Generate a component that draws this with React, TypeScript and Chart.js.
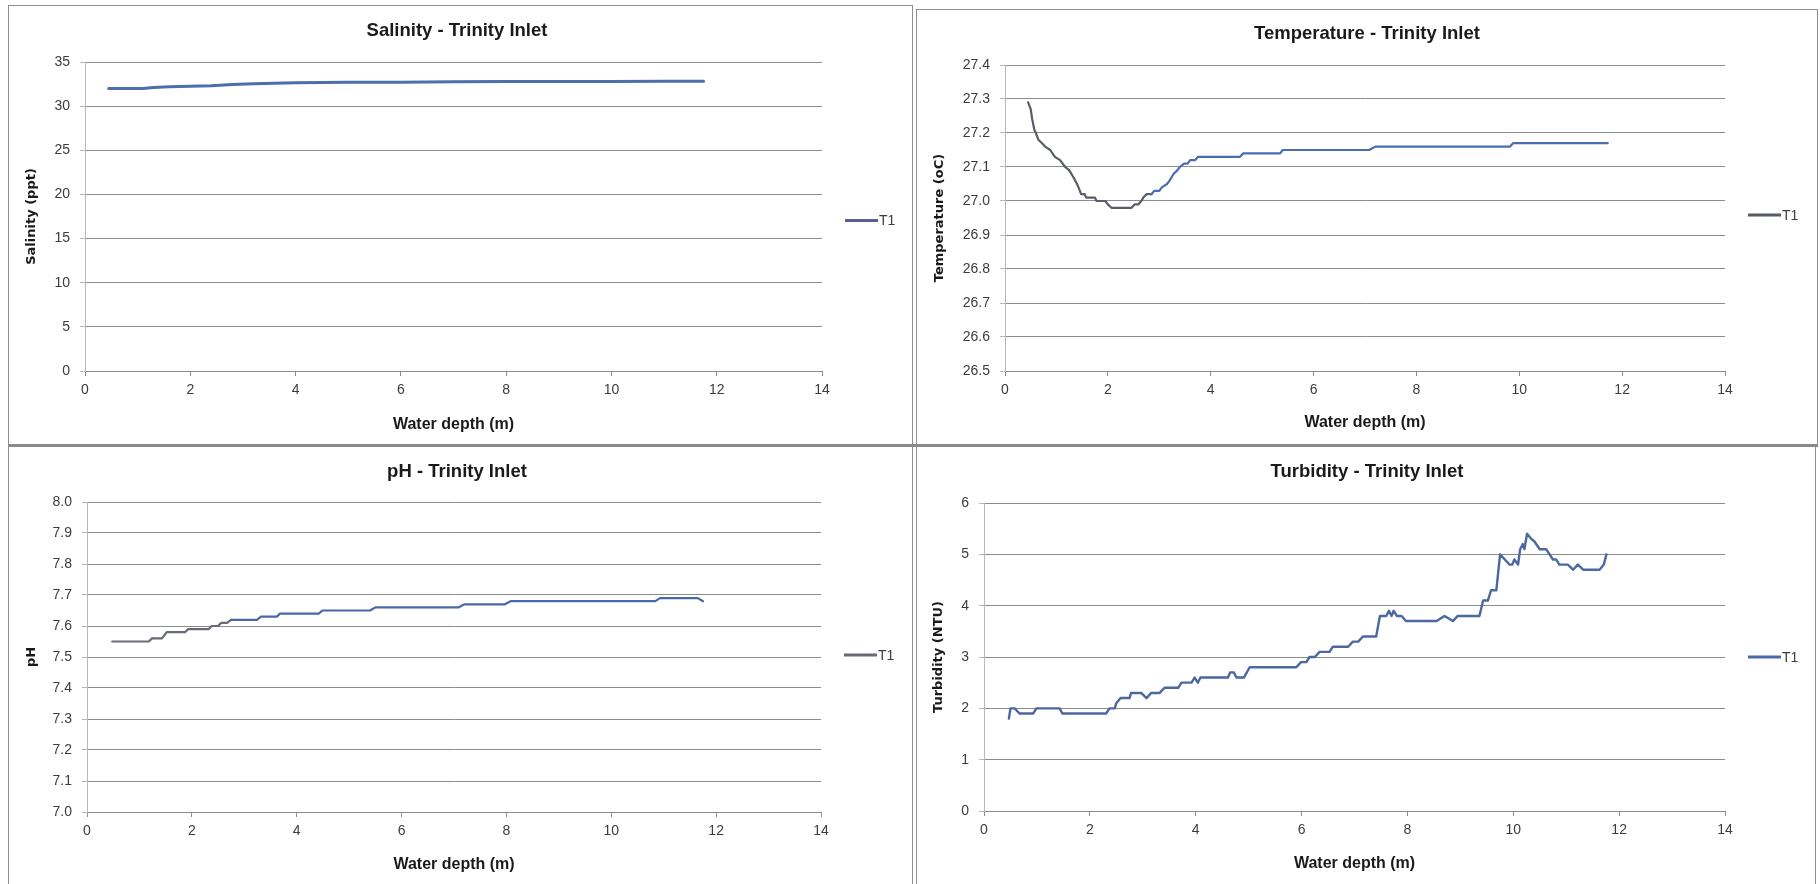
import React, { useEffect, useRef } from "react";
import { Chart, registerables } from "chart.js";

Chart.register(...registerables);

// ---------------- data ----------------
const seriesLabel = "T1";
const depthTicks = [0, 2, 4, 6, 8, 10, 12, 14];

const salinityTicks = [0, 5, 10, 15, 20, 25, 30, 35];
const salinityDepth = [0.45, 0.8, 1.1, 1.3, 1.6, 2.0, 2.4, 2.8, 3.2, 3.6, 4.0, 5.0, 6.0, 7.0, 8.0, 9.0, 10.0, 11.0, 11.75];
const salinityValues = [32.0, 32.0, 32.0, 32.1, 32.2, 32.25, 32.3, 32.45, 32.55, 32.6, 32.65, 32.7, 32.72, 32.75, 32.8, 32.8, 32.8, 32.82, 32.82];

const temperatureTicks = [26.5, 26.6, 26.7, 26.8, 26.9, 27.0, 27.1, 27.2, 27.3, 27.4];
const temperatureDepth = [0.45, 0.5, 0.53, 0.57, 0.6, 0.65, 0.72, 0.78, 0.88, 0.97, 1.07, 1.17, 1.25, 1.33, 1.4, 1.43, 1.48, 1.55, 1.58, 1.75, 1.78, 1.95, 2.0, 2.07, 2.46, 2.52, 2.59, 2.65, 2.69, 2.75, 2.85, 2.9, 3.0, 3.05, 3.15, 3.2, 3.28, 3.35, 3.4, 3.48, 3.55, 3.6, 3.7, 3.75, 4.57, 4.63, 5.35, 5.4, 7.08, 7.2, 9.82, 9.88, 11.72];
const temperatureValues = [27.29, 27.27, 27.24, 27.21, 27.2, 27.18, 27.17, 27.16, 27.15, 27.13, 27.12, 27.1, 27.09, 27.07, 27.05, 27.04, 27.02, 27.02, 27.01, 27.01, 27.0, 27.0, 26.99, 26.98, 26.98, 26.99, 26.99, 27.0, 27.01, 27.02, 27.02, 27.03, 27.03, 27.04, 27.05, 27.06, 27.08, 27.09, 27.1, 27.11, 27.11, 27.12, 27.12, 27.13, 27.13, 27.14, 27.14, 27.15, 27.15, 27.16, 27.16, 27.17, 27.17];

const phTicks = [7.0, 7.1, 7.2, 7.3, 7.4, 7.5, 7.6, 7.7, 7.8, 7.9, 8.0];
const phDepth = [0.48, 1.18, 1.24, 1.43, 1.52, 1.87, 1.93, 2.32, 2.38, 2.5, 2.56, 2.67, 2.75, 3.24, 3.32, 3.62, 3.68, 4.42, 4.49, 5.4, 5.5, 7.08, 7.2, 7.97, 8.08, 10.84, 10.93, 11.65, 11.75];
const phValues = [7.55, 7.55, 7.56, 7.56, 7.58, 7.58, 7.59, 7.59, 7.6, 7.6, 7.61, 7.61, 7.62, 7.62, 7.63, 7.63, 7.64, 7.64, 7.65, 7.65, 7.66, 7.66, 7.67, 7.67, 7.68, 7.68, 7.69, 7.69, 7.68];

const turbidityTicks = [0, 1, 2, 3, 4, 5, 6];
const turbidityDepth = [0.47, 0.5, 0.58, 0.67, 0.93, 0.99, 1.43, 1.48, 2.31, 2.37, 2.47, 2.5, 2.58, 2.75, 2.78, 2.97, 3.07, 3.16, 3.32, 3.41, 3.67, 3.73, 3.92, 3.98, 4.04, 4.09, 4.14, 4.61, 4.65, 4.72, 4.77, 4.91, 5.02, 5.9, 5.99, 6.09, 6.15, 6.25, 6.34, 6.53, 6.59, 6.88, 6.97, 7.07, 7.16, 7.41, 7.48, 7.6, 7.65, 7.7, 7.74, 7.8, 7.89, 7.97, 8.55, 8.7, 8.86, 8.95, 9.36, 9.43, 9.52, 9.58, 9.68, 9.75, 9.84, 9.93, 9.98, 10.02, 10.09, 10.13, 10.18, 10.21, 10.26, 10.34, 10.4, 10.5, 10.62, 10.75, 10.81, 10.87, 11.03, 11.13, 11.22, 11.32, 11.63, 11.71, 11.76];
const turbidityValues = [1.8, 2.0, 2.0, 1.9, 1.9, 2.0, 2.0, 1.9, 1.9, 2.0, 2.0, 2.1, 2.2, 2.2, 2.3, 2.3, 2.2, 2.3, 2.3, 2.4, 2.4, 2.5, 2.5, 2.6, 2.5, 2.6, 2.6, 2.6, 2.7, 2.7, 2.6, 2.6, 2.8, 2.8, 2.9, 2.9, 3.0, 3.0, 3.1, 3.1, 3.2, 3.2, 3.3, 3.3, 3.4, 3.4, 3.8, 3.8, 3.9, 3.8, 3.9, 3.8, 3.8, 3.7, 3.7, 3.8, 3.7, 3.8, 3.8, 4.1, 4.1, 4.3, 4.3, 5.0, 4.9, 4.8, 4.8, 4.9, 4.8, 5.1, 5.2, 5.1, 5.4, 5.3, 5.25, 5.1, 5.1, 4.9, 4.9, 4.8, 4.8, 4.7, 4.8, 4.7, 4.7, 4.8, 5.0];

// ---------------- styles ----------------
const TITLE_FONT = { family: "'Liberation Sans', Arial, sans-serif", size: 18.5, weight: "bold" as const, lineHeight: 1.2 };
const XTITLE_FONT = { family: "'Liberation Sans', Arial, sans-serif", size: 16, weight: "bold" as const, lineHeight: 1.2 };
const YTITLE_FONT = { family: "'DejaVu Sans', Verdana, sans-serif", size: 13, weight: "bold" as const, lineHeight: 1.2 };
const TICK_FONT = { family: "'Liberation Sans', Arial, sans-serif", size: 14, lineHeight: 1.2 };
const GRID = "#8c8c8c";
const AXIS_LIGHT = "#b8b8b8";
const TEXT = "#1a1a1a";
const TICK_TEXT = "#3c3c3c";

type Rect = { x: number; y: number; w: number; h: number };
type PanelSpec = {
  title: string;
  yTitle: string;
  xTitle: string;
  depth: number[];
  values: number[];
  yTicks: number[];
  decimals: number;
  color: string;
  startColor?: string;
  split?: number;
  lineWidth: number;
  legendColor: string;
  canvas: Rect;
  plot: { l: number; r: number; t: number; b: number };
  titleY: number;
  xTitleY: number;
  yTitleX: number;
  legendDy: number;
};

const panels: PanelSpec[] = [
  {
    title: "Salinity - Trinity Inlet", yTitle: "Salinity (ppt)", xTitle: "Water depth (m)",
    depth: salinityDepth, values: salinityValues, yTicks: salinityTicks, decimals: 0,
    color: "#4a6fab", lineWidth: 3, legendColor: "#5a5f96",
    canvas: { x: 0, y: 0, w: 914, h: 446 }, plot: { l: 85, r: 822, t: 62, b: 371 },
    titleY: 31, xTitleY: 425, yTitleX: 32, legendDy: 4,
  },
  {
    title: "Temperature - Trinity Inlet", yTitle: "Temperature (oC)", xTitle: "Water depth (m)",
    depth: temperatureDepth, values: temperatureValues, yTicks: temperatureTicks, decimals: 1,
    color: "#4a6cb0", startColor: "#585d66", split: 2.85, lineWidth: 2.2, legendColor: "#575b62",
    canvas: { x: 914, y: 0, w: 906, h: 446 }, plot: { l: 1005, r: 1725, t: 65, b: 371 },
    titleY: 34, xTitleY: 423, yTitleX: 940, legendDy: -3,
  },
  {
    title: "pH - Trinity Inlet", yTitle: "pH", xTitle: "Water depth (m)",
    depth: phDepth, values: phValues, yTicks: phTicks, decimals: 1,
    color: "#4a67a8", startColor: "#666b76", split: 2.75, lineWidth: 2.2, legendColor: "#676b72",
    canvas: { x: 0, y: 446, w: 914, h: 438 }, plot: { l: 87, r: 821, t: 502, b: 812 },
    titleY: 472, xTitleY: 865, yTitleX: 32, legendDy: -2,
  },
  {
    title: "Turbidity - Trinity Inlet", yTitle: "Turbidity (NTU)", xTitle: "Water depth (m)",
    depth: turbidityDepth, values: turbidityValues, yTicks: turbidityTicks, decimals: 0,
    color: "#4b68a0", lineWidth: 2.4, legendColor: "#4a6aa8",
    canvas: { x: 914, y: 446, w: 906, h: 438 }, plot: { l: 984, r: 1725, t: 503, b: 811 },
    titleY: 472, xTitleY: 864, yTitleX: 939, legendDy: 0,
  },
];

const sideLegend = {
  id: "sideLegend",
  afterDraw(chart: any, _args: any, opts: any) {
    const { ctx, chartArea } = chart;
    const ds = chart.data.datasets[0];
    const y = (chartArea.top + chartArea.bottom) / 2 + (opts.dy || 0);
    const x0 = chartArea.right + 23;
    const x1 = x0 + 33;
    ctx.save();
    ctx.strokeStyle = opts.color;
    ctx.lineWidth = 3;
    ctx.beginPath();
    ctx.moveTo(x0, y);
    ctx.lineTo(x1, y);
    ctx.stroke();
    ctx.fillStyle = TICK_TEXT;
    ctx.font = "14px 'Liberation Sans', Arial, sans-serif";
    ctx.textBaseline = "middle";
    ctx.textAlign = "left";
    ctx.fillText(ds.label, x1 + 1, y + 1);
    ctx.restore();
  },
};

function buildConfig(p: PanelSpec): any {
  const c = p.canvas;
  const tLH = TITLE_FONT.size * TITLE_FONT.lineHeight;
  const titleTop = p.titleY - c.y - tLH / 2;
  const titleBottom = p.plot.t - c.y - titleTop - tLH;
  const xLH = XTITLE_FONT.size * XTITLE_FONT.lineHeight;
  const yLH = YTITLE_FONT.size * YTITLE_FONT.lineHeight;
  const xAxisH = c.y + c.h - p.plot.b;
  const yAxisW = p.plot.l - c.x;
  const rightW = c.x + c.w - p.plot.r;
  const points = p.depth.map((d, i) => ({ x: d, y: p.values[i] }));
  const dataset: any = {
    label: seriesLabel,
    data: points,
    borderColor: p.color,
    borderWidth: p.lineWidth,
    pointRadius: 0,
    tension: 0,
    fill: false,
    borderJoinStyle: "round",
    borderCapStyle: "round",
  };
  if (p.split !== undefined) {
    dataset.segment = {
      borderColor: (ctx: any) => (ctx.p0.parsed.x < (p.split as number) ? p.startColor : p.color),
    };
  }
  return {
    type: "line",
    data: { datasets: [dataset] },
    plugins: [sideLegend],
    options: {
      animation: false,
      responsive: false,
      maintainAspectRatio: false,
      layout: { padding: 0 },
      plugins: {
        legend: { display: false },
        tooltip: { enabled: false },
        title: {
          display: true,
          text: p.title,
          color: TEXT,
          font: TITLE_FONT,
          padding: { top: titleTop, bottom: titleBottom },
        },
        sideLegend: { color: p.legendColor, dy: p.legendDy },
      },
      scales: {
        x: {
          type: "linear",
          position: "bottom",
          min: depthTicks[0],
          max: depthTicks[depthTicks.length - 1],
          afterBuildTicks: (s: any) => { s.ticks = depthTicks.map((v) => ({ value: v })); },
          afterFit: (s: any) => { s.height = xAxisH; },
          grid: { drawOnChartArea: false, drawTicks: true, tickLength: 5, tickColor: GRID, color: GRID },
          border: { display: true, color: GRID, width: 1 },
          ticks: { font: TICK_FONT, color: TICK_TEXT, padding: 6, maxRotation: 0, autoSkip: false, callback: (v: any) => String(v) },
          title: {
            display: true,
            text: p.xTitle,
            color: TEXT,
            font: XTITLE_FONT,
            padding: { top: 0, bottom: c.y + c.h - p.xTitleY - xLH / 2 },
          },
        },
        y: {
          type: "linear",
          position: "left",
          min: p.yTicks[0],
          max: p.yTicks[p.yTicks.length - 1],
          afterBuildTicks: (s: any) => { s.ticks = p.yTicks.map((v) => ({ value: v })); },
          afterFit: (s: any) => { s.width = yAxisW; },
          grid: { color: GRID, lineWidth: 1, drawTicks: true, tickLength: 5, tickColor: AXIS_LIGHT },
          border: { display: true, color: AXIS_LIGHT, width: 1 },
          ticks: {
            font: TICK_FONT,
            color: TICK_TEXT,
            padding: 10,
            autoSkip: false,
            callback: (v: any) => Number(v).toFixed(p.decimals),
          },
          title: {
            display: true,
            text: p.yTitle,
            color: TEXT,
            font: YTITLE_FONT,
            padding: { top: p.yTitleX - c.x - yLH / 2, bottom: 0 },
          },
        },
        side: {
          type: "linear",
          position: "right",
          display: true,
          afterFit: (s: any) => { s.width = rightW; },
          grid: { display: false, drawTicks: false },
          border: { display: false },
          ticks: { display: false },
          title: { display: false },
        },
      },
    },
  };
}

function ChartPanel({ spec }: { spec: PanelSpec }) {
  const ref = useRef<HTMLCanvasElement | null>(null);
  useEffect(() => {
    if (!ref.current) return;
    const chart = new Chart(ref.current, buildConfig(spec));
    return () => chart.destroy();
  }, [spec]);
  const c = spec.canvas;
  return (
    <canvas
      ref={ref}
      width={c.w}
      height={c.h}
      style={{ position: "absolute", left: c.x, top: c.y, width: c.w, height: c.h }}
    />
  );
}

const frames = [
  { l: 8, t: 5, r: 913, b: 446 },
  { l: 916, t: 9, r: 1818, b: 446 },
  { l: 8, t: 446, r: 913, b: 886 },
  { l: 916, t: 446, r: 1816, b: 886 },
];

export default function App() {
  return (
    <div style={{ position: "absolute", left: 0, top: 0, width: 1820, height: 884, background: "#ffffff", overflow: "hidden" }}>
      {panels.map((p, i) => (
        <ChartPanel key={i} spec={p} />
      ))}
      {frames.map((f, i) => (
        <div
          key={"f" + i}
          style={{
            position: "absolute",
            left: f.l,
            top: f.t,
            width: f.r - f.l,
            height: f.b - f.t,
            border: "1.5px solid #8f8f8f",
            boxSizing: "border-box",
            pointerEvents: "none",
          }}
        />
      ))}
      <div style={{ position: "absolute", left: 8, top: 444, width: 1810, height: 3, background: "#8a8a8a", pointerEvents: "none" }} />
    </div>
  );
}
